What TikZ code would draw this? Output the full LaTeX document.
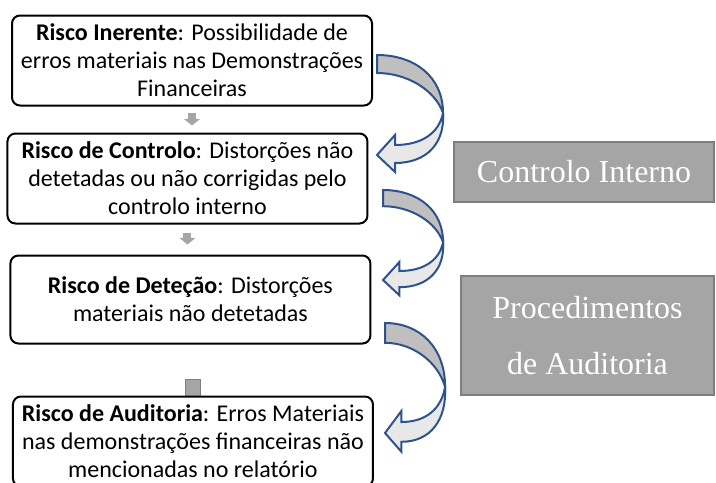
\documentclass[tikz,border=0pt]{standalone}
\usepackage{fontspec}
\setmainfont{Carlito}
\newfontfamily\timesfont{Liberation Serif}
\usetikzlibrary{positioning,arrows.meta,backgrounds}
\definecolor{arrgray}{HTML}{A5A5A5}
\definecolor{boxedge}{HTML}{7F7F7F}
\definecolor{bandblue}{HTML}{2F528F}
\definecolor{banddark}{HTML}{BFBFBF}
\definecolor{bandlight}{HTML}{E8E8E8}

\begin{document}
\begin{tikzpicture}[
  x=0.75pt, y=-0.75pt,
  node distance=19.5pt,
  riskbox/.style={draw,line width=1.5pt,rounded corners=6pt,fill=white,align=center,
    minimum width=270pt,minimum height=67.5pt,inner sep=0pt,
    font=\fontsize{18}{21}\selectfont},
  sidebox/.style={draw=boxedge,fill=arrgray,line width=1.5pt,text=white,align=center,
    inner sep=0pt,font=\timesfont\fontsize{24}{42}\selectfont},
  downarr/.style={draw=arrgray,line width=6pt,-{Triangle[width=12pt,length=5pt]}},
  stemarr/.style={fill=arrgray,draw=boxedge,line width=1.2pt},
  curvarr/.pic={
    \filldraw[fill=banddark,draw=bandblue,line width=1.5pt]
      (0,0) .. controls (38,0) and (66,22) .. (66,58)
      .. controls (58,35) and (30,18) .. (0,18) -- cycle;
    \filldraw[fill=bandlight,draw=bandblue,line width=1.5pt]
      (66,58) .. controls (62,78) and (45,90) .. (18,90)
      -- (18,80) -- (0,100) -- (18,117) -- (18,108)
      .. controls (50,108) and (68,88) .. (66,58) -- cycle;
  }
]
\useasboundingbox (0,0) rectangle (716,482);

\node[riskbox] (r1) at (192,60.5) {\textbf{Risco Inerente}: Possibilidade de\\erros materiais nas Demonstrações\\Financeiras};
\node[riskbox,below=of r1,xshift=-3.4pt] (r2) {\textbf{Risco de Controlo}: Distorções não\\detetadas ou não corrigidas pelo\\controlo interno};
\node[riskbox,below=22.5pt of r2,xshift=2.2pt,minimum height=66pt] (r3) {\textbf{Risco de Deteção}: Distorções\\materiais não detetadas};
\node[riskbox,below=38.25pt of r3,xshift=1.9pt] (r4) {\textbf{Risco de Auditoria}: Erros Materiais\\nas demonstrações financeiras não\\mencionadas no relatório};

\node[sidebox,minimum width=195pt,minimum height=45pt] (ci) at (584,172) {Controlo Interno};
\node[sidebox,minimum width=189.75pt,minimum height=89.25pt] (pa) at (587.5,335.5) {Procedimentos\\de Auditoria};

\draw[downarr,shorten <=4.5pt,shorten >=5.25pt] (r1.south) -- (r1.south |- r2.north);
\draw[downarr,shorten <=6pt,shorten >=7.5pt] (r2.south) -- (r2.south |- r3.north);
\begin{pgfonlayer}{background}
\filldraw[stemarr] ([xshift=-5.6pt,yshift=12pt]r4.north) rectangle ([xshift=5.6pt]r4.center);
\end{pgfonlayer}

\pic at (377,55) {curvarr};
\pic[xscale=0.91,yscale=0.9] at (383,190) {curvarr};
\pic[xscale=0.91,yscale=1.1] at (385,323) {curvarr};
\end{tikzpicture}
\end{document}
